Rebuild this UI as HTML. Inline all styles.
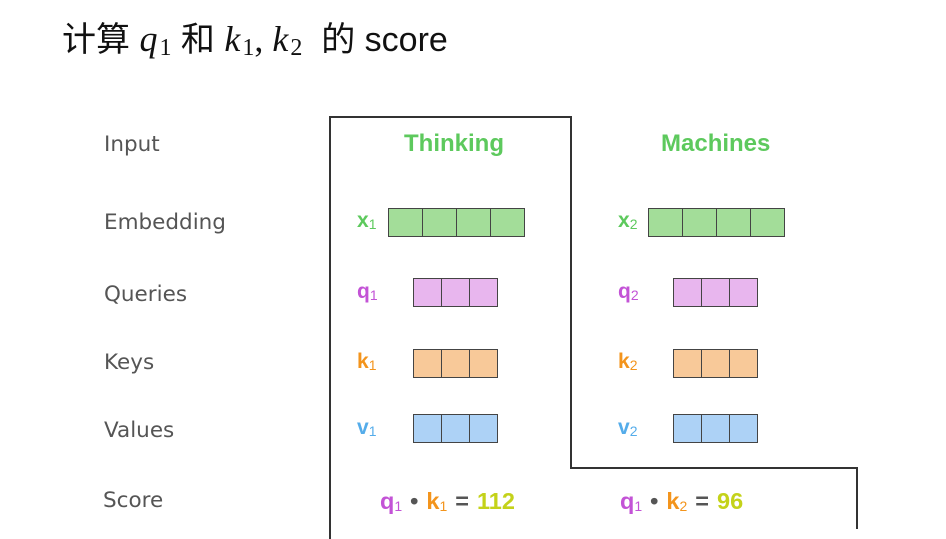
<!DOCTYPE html>
<html><head><meta charset="utf-8"><style>
body{margin:0;width:946px;height:539px;background:#fff;position:relative;overflow:hidden;font-family:"Liberation Sans","Noto Sans CJK SC",sans-serif}
.a{position:absolute;white-space:nowrap}
.lab{font-family:"DejaVu Sans","Liberation Sans",sans-serif;font-size:21.5px;color:#555;left:104px}
.ln{position:absolute;background:#333}
.row{position:absolute;display:flex;border:1px solid #444;height:27px}
.row div{width:33px;border-right:1px solid #444;height:27px}
.row div:last-child{border-right:none}
.s3 div{width:27px}
.g{background:#a3dd99}.p{background:#e8b6ee}.o{background:#f8c999}.b{background:#add2f6}
.v{font-weight:bold;font-size:21px}
.v sub{font-size:14px;vertical-align:-2px;font-weight:normal}
.cg{color:#5dc95d}.cp{color:#c353d6}.co{color:#f3941c}.cb{color:#54acea}.cy{color:#c4d21a}.cd{color:#555}
.m{font-family:'Liberation Serif',serif;font-size:36px}
.ms{font-family:'Liberation Serif',serif;font-size:24px;vertical-align:-4px;margin-left:2px}
.sc span.x{margin:0 8px}
</style></head><body>
<div class="a" style="left:62px;top:12px;font-size:34px;color:#111">计算 <i class="m">q</i><span class="ms">1</span> 和 <i class="m">k</i><span class="ms">1</span><span class="m">,&nbsp;</span><i class="m">k</i><span class="ms">2</span>&nbsp; 的 score</div>

<div class="a lab" style="top:132px">Input</div>
<div class="a lab" style="top:210px">Embedding</div>
<div class="a lab" style="top:282px">Queries</div>
<div class="a lab" style="top:350px">Keys</div>
<div class="a lab" style="top:418px">Values</div>
<div class="a lab" style="top:488px;left:103px">Score</div>

<div class="ln" style="left:329px;top:116px;width:2px;height:423px"></div>
<div class="ln" style="left:329px;top:116px;width:243px;height:2px"></div>
<div class="ln" style="left:570px;top:116px;width:2px;height:353px"></div>
<div class="ln" style="left:570px;top:467px;width:288px;height:2px"></div>
<div class="ln" style="left:856px;top:467px;width:2px;height:62px"></div>

<div class="a v cg" style="left:404px;top:130px;font-size:24px">Thinking</div>
<div class="a v cg" style="left:661px;top:130px;font-size:24px">Machines</div>

<div class="a v cg" style="left:357px;top:209px">x<sub>1</sub></div>
<div class="row g" style="left:388px;top:208px"><div></div><div></div><div></div><div></div></div>
<div class="a v cg" style="left:618px;top:209px">x<sub>2</sub></div>
<div class="row g" style="left:648px;top:208px"><div></div><div></div><div></div><div></div></div>

<div class="a v cp" style="left:357px;top:280px">q<sub>1</sub></div>
<div class="row s3 p" style="left:413px;top:278px"><div></div><div></div><div></div></div>
<div class="a v cp" style="left:618px;top:280px">q<sub>2</sub></div>
<div class="row s3 p" style="left:673px;top:278px"><div></div><div></div><div></div></div>

<div class="a v co" style="left:357px;top:350px">k<sub>1</sub></div>
<div class="row s3 o" style="left:413px;top:349px"><div></div><div></div><div></div></div>
<div class="a v co" style="left:618px;top:350px">k<sub>2</sub></div>
<div class="row s3 o" style="left:673px;top:349px"><div></div><div></div><div></div></div>

<div class="a v cb" style="left:357px;top:416px">v<sub>1</sub></div>
<div class="row s3 b" style="left:413px;top:414px"><div></div><div></div><div></div></div>
<div class="a v cb" style="left:618px;top:416px">v<sub>2</sub></div>
<div class="row s3 b" style="left:673px;top:414px"><div></div><div></div><div></div></div>

<div class="a v sc" style="left:380px;top:488px;font-size:23.5px"><span class="cp">q<sub>1</sub></span><span class="cd x">•</span><span class="co">k<sub>1</sub></span><span class="cd x">=</span><span class="cy">112</span></div>
<div class="a v sc" style="left:620px;top:488px;font-size:23.5px"><span class="cp">q<sub>1</sub></span><span class="cd x">•</span><span class="co">k<sub>2</sub></span><span class="cd x">=</span><span class="cy">96</span></div>
</body></html>
